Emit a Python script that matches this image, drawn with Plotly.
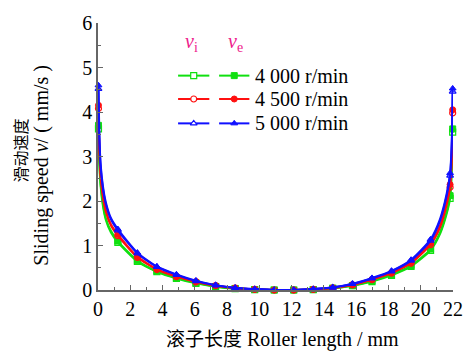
import plotly.graph_objects as go

# ---------------- data ----------------
x_pos = [0.03, 0.08, 0.16, 0.3, 0.48, 0.8, 1.23, 2.44, 3.65, 4.86, 6.07, 7.29, 8.50,
         9.71, 10.92, 12.13, 13.34, 14.55, 15.77, 16.98, 18.19, 19.40, 20.61, 21.2,
         21.6, 21.82, 21.9, 21.95, 21.98]
marker_idx = [0, 6, 7, 8, 9, 10, 11, 12, 13, 14, 15, 16, 17, 18, 19, 20, 21, 22, 25, 28]

ve_4000 = [3.70, 2.95, 2.40, 1.95, 1.62, 1.33, 1.10, 0.66, 0.42, 0.27, 0.16, 0.08, 0.035,
           0.01, 0.0, 0.0, 0.01, 0.04, 0.10, 0.20, 0.35, 0.55, 0.92, 1.30, 1.75, 2.12,
           2.55, 3.10, 3.62]
vi_4000 = [3.62, 2.88, 2.34, 1.90, 1.58, 1.29, 1.07, 0.64, 0.41, 0.26, 0.15, 0.075, 0.03,
           0.01, 0.0, 0.0, 0.01, 0.035, 0.095, 0.19, 0.33, 0.53, 0.89, 1.26, 1.70, 2.06,
           2.48, 3.02, 3.55]
ve_4500 = [4.15, 3.25, 2.60, 2.15, 1.80, 1.48, 1.25, 0.75, 0.47, 0.31, 0.19, 0.10, 0.045,
           0.015, 0.0, 0.0, 0.015, 0.05, 0.12, 0.24, 0.39, 0.62, 1.05, 1.45, 1.95, 2.37,
           2.80, 3.40, 4.05]
vi_4500 = [4.08, 3.18, 2.55, 2.10, 1.76, 1.45, 1.22, 0.73, 0.46, 0.30, 0.18, 0.095, 0.04,
           0.015, 0.0, 0.0, 0.015, 0.045, 0.115, 0.23, 0.38, 0.60, 1.02, 1.41, 1.90, 2.31,
           2.74, 3.33, 3.98]
ve_5000 = [4.60, 3.55, 2.85, 2.35, 1.98, 1.62, 1.37, 0.84, 0.53, 0.35, 0.21, 0.11, 0.05,
           0.02, 0.0, 0.0, 0.02, 0.06, 0.14, 0.27, 0.43, 0.68, 1.14, 1.60, 2.15, 2.63,
           3.10, 3.70, 4.53]
vi_5000 = [4.52, 3.48, 2.80, 2.30, 1.94, 1.59, 1.34, 0.82, 0.52, 0.34, 0.20, 0.105, 0.045,
           0.02, 0.0, 0.0, 0.02, 0.055, 0.135, 0.26, 0.42, 0.66, 1.11, 1.56, 2.10, 2.57,
           3.04, 3.63, 4.46]

series = [
    ("4 000 r/min", "#10e010", "square", vi_4000, ve_4000),
    ("4 500 r/min", "#ff1010", "circle", vi_4500, ve_4500),
    ("5 000 r/min", "#1010ff", "triangle-up", vi_5000, ve_5000),
]

x_ticks = [0, 2, 4, 6, 8, 10, 12, 14, 16, 18, 20, 22]
y_ticks = [0, 1, 2, 3, 4, 5, 6]

# ---------------- figure ----------------
W, H = 475, 354
L, R, T, B = 98, 461.5, 16, 290
SERIF = "Liberation Serif"
CJK = "Noto Sans CJK SC"
FS = 20

fig = go.Figure()


def marker_style(sym, col, open_m):
    if open_m:
        return dict(symbol=sym + "-open-dot", size=6, color=col,
                    line=dict(color=col, width=1.2))
    return dict(symbol=sym, size=6, color=col, line=dict(color=col, width=1))


for name, col, sym, vi, ve in series:
    for vals, open_m in ((vi, True), (ve, False)):
        fig.add_trace(go.Scatter(
            x=x_pos, y=vals, mode="lines",
            line=dict(color=col, width=2, shape="spline", smoothing=0.6),
            showlegend=False, hoverinfo="skip", cliponaxis=False))
        fig.add_trace(go.Scatter(
            x=[x_pos[i] for i in marker_idx], y=[vals[i] for i in marker_idx],
            mode="markers", marker=marker_style(sym, col, open_m),
            showlegend=False, cliponaxis=False))


# legend drawn on an overlay axis in pixel-like coordinates
def px(xp):
    return (xp - L) / (R - L)


def py(yp):
    return (B - yp) / (B - T)


rows_y = [70, 94, 119]
for (name, col, sym, vi, ve), ry in zip(series, rows_y):
    for x0, x1, xm, open_m in ((180, 212, 196, True), (222, 253, 237.5, False)):
        fig.add_trace(go.Scatter(
            x=[px(x0), px(x1)], y=[py(ry), py(ry)], mode="lines",
            line=dict(color=col, width=2), xaxis="x2", yaxis="y2",
            showlegend=False, hoverinfo="skip", cliponaxis=False))
        m = marker_style(sym, col, open_m)
        if open_m:
            m = dict(symbol=sym, size=6, color="white", line=dict(color=col, width=1.2))
        fig.add_trace(go.Scatter(
            x=[px(xm)], y=[py(ry)], mode="markers", marker=m,
            xaxis="x2", yaxis="y2", showlegend=False, hoverinfo="skip",
            cliponaxis=False))
    fig.add_annotation(x=px(257), y=py(ry), xref="x2", yref="y2", text=name,
                       showarrow=False, xanchor="left", yanchor="middle",
                       font=dict(family=SERIF, size=FS, color="black"))

pink = "#ee1a8c"
fig.add_annotation(x=px(194), y=py(36), xref="x2", yref="y2",
                   text="<i>v</i><sub>i</sub>", showarrow=False,
                   xanchor="center", yanchor="middle",
                   font=dict(family=SERIF, size=FS, color=pink))
fig.add_annotation(x=px(239), y=py(36), xref="x2", yref="y2",
                   text="<i>v</i><sub>e</sub>", showarrow=False,
                   xanchor="center", yanchor="middle",
                   font=dict(family=SERIF, size=FS, color=pink))

# axis titles
fig.add_annotation(x=px(18), y=py(147), xref="paper", yref="paper",
                   text="滑动速度", textangle=-90, showarrow=False,
                   xanchor="center", yanchor="middle",
                   font=dict(family=CJK, size=16, color="black"))
fig.add_annotation(x=px(40), y=py(162), xref="paper", yref="paper",
                   text="Sliding speed <i>v</i>/ ( mm/s )", textangle=-90, showarrow=False,
                   xanchor="center", yanchor="middle",
                   font=dict(family=SERIF, size=FS, color="black"))
fig.add_annotation(x=px(287), y=py(339), xref="paper", yref="paper",
                   text="<span style='font-family:Noto Sans CJK SC;font-size:19px'>滚子长度</span> Roller length / mm",
                   showarrow=False, xanchor="center", yanchor="middle",
                   font=dict(family=SERIF, size=FS, color="black"))

axis_col = "#666666"
fig.update_layout(
    width=W, height=H,
    margin=dict(l=L, r=W - R, t=T, b=H - B, pad=0),
    paper_bgcolor="white", plot_bgcolor="white",
    font=dict(family=SERIF, size=FS, color="black"),
    xaxis=dict(range=[0, 22], tickvals=x_ticks, showgrid=False, zeroline=False,
               showline=True, linecolor=axis_col, linewidth=1.5,
               ticks="inside", ticklen=5, tickcolor=axis_col, tickwidth=1,
               minor=dict(ticks="inside", dtick=1, ticklen=3, tickcolor=axis_col),
               tickfont=dict(family=SERIF, size=FS, color="black"), fixedrange=True),
    yaxis=dict(range=[0, 6], tickvals=y_ticks, showgrid=False, zeroline=False,
               showline=True, linecolor=axis_col, linewidth=1.5,
               ticks="inside", ticklen=5, tickcolor=axis_col, tickwidth=1,
               minor=dict(ticks="inside", dtick=0.5, ticklen=3, tickcolor=axis_col),
               tickfont=dict(family=SERIF, size=FS, color="black"), fixedrange=True),
    xaxis2=dict(range=[0, 1], overlaying="x", visible=False, fixedrange=True),
    yaxis2=dict(range=[0, 1], overlaying="y", visible=False, fixedrange=True),
    showlegend=False,
)

fig.write_html("out.html")
